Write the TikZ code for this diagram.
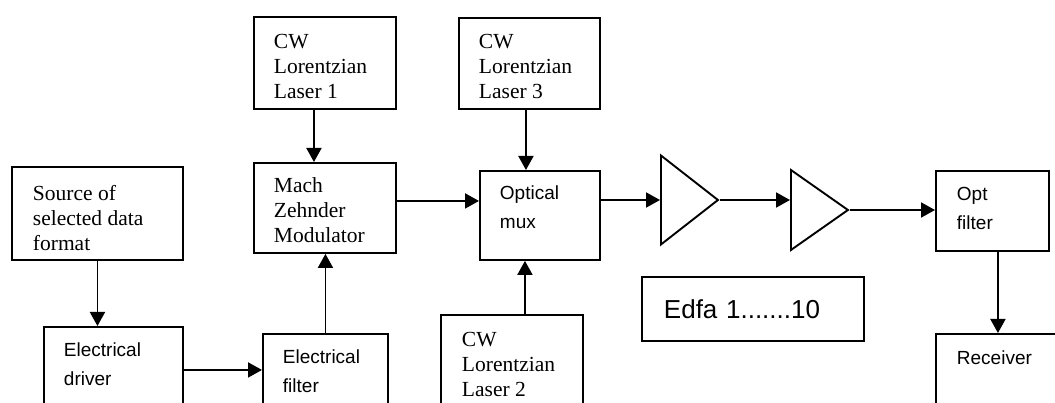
\documentclass[tikz,border=0pt]{standalone}
\usepackage{fontspec}
\setmainfont{Liberation Serif}
\setsansfont{Liberation Sans}
\usetikzlibrary{arrows.meta,positioning,shapes.geometric}

\begin{document}
\begin{tikzpicture}[x=1pt,y=-1pt,line width=1.9pt,
  blk/.style={draw,inner sep=0pt,anchor=north west},
  amp/.style={draw,isosceles triangle,isosceles triangle stretches,inner sep=0pt,anchor=lower side},
  rmtxt/.style={anchor=north west,inner sep=0pt,align=left,font=\fontsize{21.5}{25}\selectfont},
  sftxt/.style={anchor=north west,inner sep=0pt,align=left,font=\sffamily\fontsize{19}{29}\selectfont},
  arr/.style={-{Triangle[length=14pt,width=15pt]}}
]
  \useasboundingbox (0,0) rectangle (1055,403);
  \clip (0,0) rectangle (1055,403);

  % electrical side
  \node[blk,minimum width=171pt,minimum height=93pt] (src) at (11,166) {};
  \node[rmtxt] at ([shift={(21,18)}]src.north west) {Source of\\selected data\\format};
  \node[blk,minimum width=139pt,minimum height=86pt] (drv) at (43,326) {};
  \node[sftxt] at ([shift={(20,16)}]drv.north west) {Electrical\\driver};
  \node[blk,minimum width=125pt,minimum height=90pt] (efilt) at (262,333) {};
  \node[sftxt] at ([shift={(20,16)}]efilt.north west) {Electrical\\filter};

  % lasers and modulator
  \node[blk,minimum width=142pt,minimum height=92pt] (las1) at (253,16) {};
  \node[rmtxt] at ([shift={(20,17)}]las1.north west) {CW\\Lorentzian\\Laser 1};
  \node[blk,minimum width=142pt,minimum height=90pt] (mzm) at (253,162) {};
  \node[rmtxt] at ([shift={(20,15)}]mzm.north west) {Mach\\Zehnder\\Modulator};
  \node[blk,minimum width=141pt,minimum height=91pt] (las3) at (458,17) {};
  \node[rmtxt] at ([shift={(20,16)}]las3.north west) {CW\\Lorentzian\\Laser 3};
  \node[blk,minimum width=142pt,minimum height=100pt] (las2) at (440,314) {};
  \node[rmtxt] at ([shift={(21,17)}]las2.north west) {CW\\Lorentzian\\Laser 2};
  \node[blk,minimum width=120pt,minimum height=89pt] (mux) at (479,170) {};
  \node[sftxt] at ([shift={(20,15)}]mux.north west) {Optical\\mux};

  % amplifier chain
  \node[amp,minimum height=57pt,minimum width=89pt] (amp1) at (660,200) {};
  \node[amp,minimum height=57pt,minimum width=80pt] (amp2) at (790,210) {};
  \node[blk,minimum width=222pt,minimum height=64pt,text width=178pt,inner xsep=22pt,
    align=left,font=\sffamily\fontsize{26}{32}\selectfont] (edfa) at (641,276) {Edfa 1.......10};

  % receiver end
  \node[blk,minimum width=113pt,minimum height=80pt] (ofilt) at (935,170) {};
  \node[sftxt] at ([shift={(21,16)}]ofilt.north west) {Opt\\filter};
  \node[blk,minimum width=140pt,minimum height=90pt] (rcv) at (935,333) {};
  \node[sftxt] at ([shift={(21,17)}]rcv.north west) {Receiver};

  % signal flow
  \draw[arr] (src.south) -- (src.south |- drv.north);
  \draw[arr] (drv.east) -- (drv.east -| efilt.west);
  \draw[arr] (efilt.north) -- (efilt.north |- mzm.south);
  \draw[arr] ([xshift=-11pt]las1.south) -- ([xshift=-11pt]las1.south |- mzm.north);
  \draw[arr] ([yshift=7pt]mzm.east) -- ([yshift=7pt]mzm.east -| mux.west);
  \draw[arr] ([xshift=-3.5pt]las3.south) -- ([xshift=-3.5pt]las3.south |- mux.north);
  \draw[arr] ([xshift=13pt]las2.north) -- ([xshift=13pt]las2.north |- mux.south);
  \draw[arr] (amp1.lower side -| mux.east) -- (amp1.lower side);
  \draw[arr] (amp1.apex) -- (amp1.apex -| amp2.lower side);
  \draw[arr] (amp2.apex) -- (amp2.apex -| ofilt.west);
  \draw[arr] ([xshift=5.5pt]ofilt.south) -- ([xshift=5.5pt]ofilt.south |- rcv.north);
\end{tikzpicture}
\end{document}
